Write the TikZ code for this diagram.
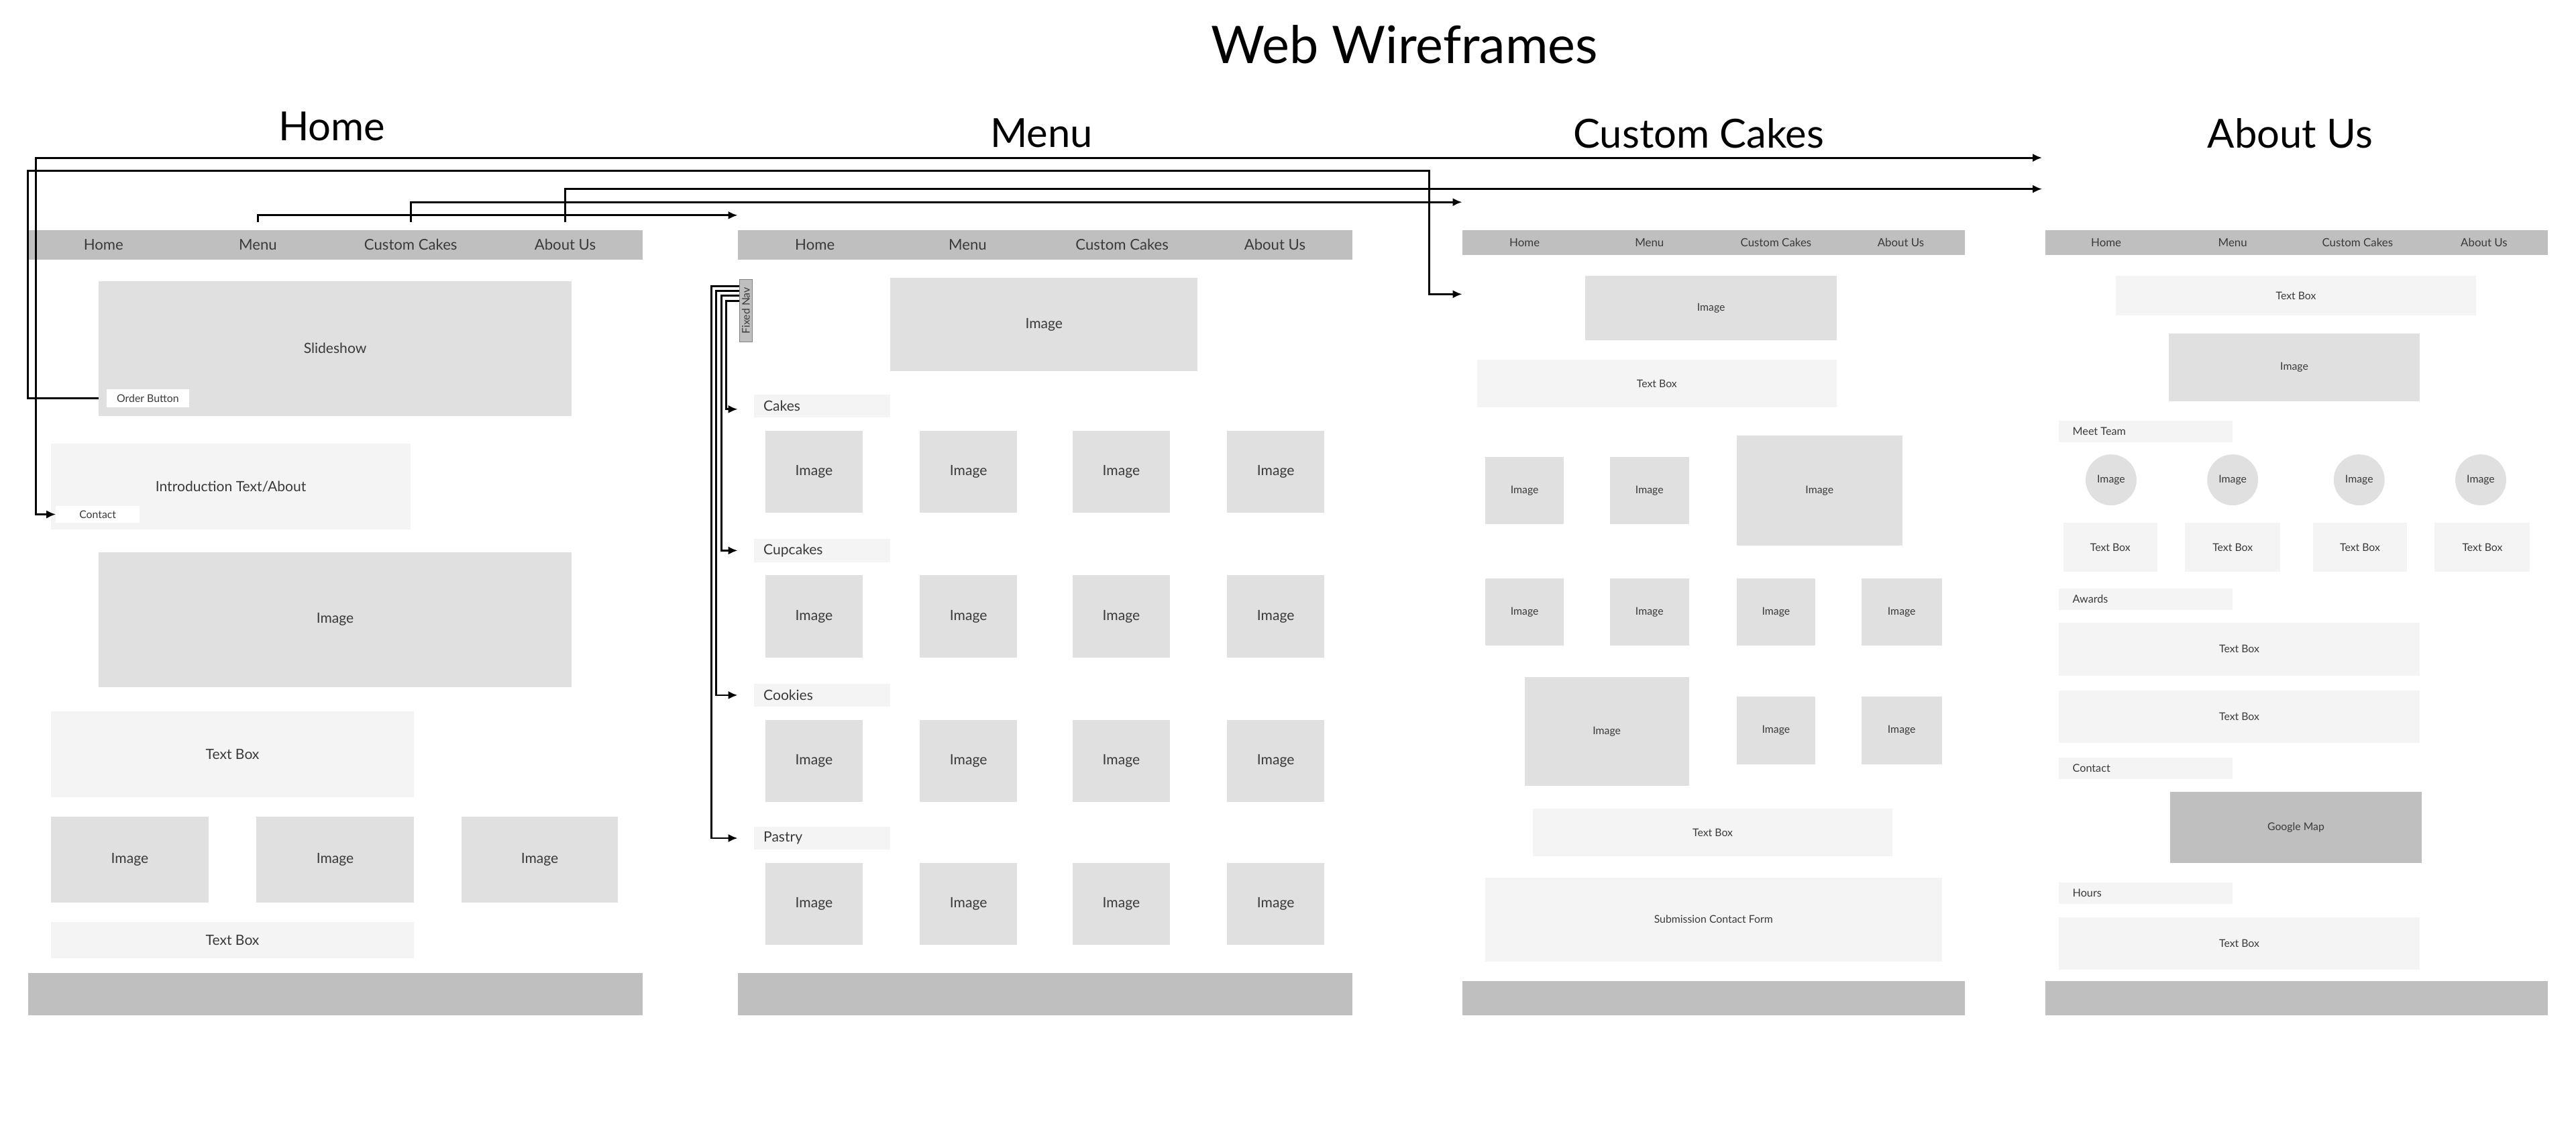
\documentclass[tikz,border=0pt]{standalone}
\usepackage{fontspec}
\setmainfont{Lato}
\usetikzlibrary{arrows.meta}
\definecolor{navc}{HTML}{BFBFBF}
\definecolor{imgc}{HTML}{E0E0E0}
\definecolor{txtc}{HTML}{F4F4F4}
\definecolor{inkc}{HTML}{3A3A3A}
\newcommand\wb[7]{%
 \pgfmathsetmacro\cx{(#3+#5)/2}\pgfmathsetmacro\cy{(#4+#6)/2}%
 \pgfmathsetmacro\ww{(#5-#3)*0.02449}\pgfmathsetmacro\hh{(#6-#4)*0.02449}%
 \node[#2,minimum width=\ww cm,minimum height=\hh cm] (#1) at (\cx,\cy) {#7};}
\begin{document}
\begin{tikzpicture}[x=0.02449cm,y=-0.02449cm,
 every node/.style={inner sep=0pt,outer sep=0pt,text=inkc},
 nav/.style={fill=navc},
 img/.style={fill=imgc,font=\fontsize{6}{7}\selectfont},
 tb/.style={fill=txtc,font=\fontsize{6}{7}\selectfont},
 imgs/.style={fill=imgc,font=\fontsize{4.5}{5}\selectfont},
 tbs/.style={fill=txtc,font=\fontsize{4.5}{5}\selectfont},
 wbtn/.style={fill=white,font=\fontsize{4.5}{5}\selectfont},
 navt/.style={font=\fontsize{6.3}{7}\selectfont},
 navs/.style={font=\fontsize{4.8}{5}\selectfont},
 hdr/.style={font=\fontsize{6}{7}\selectfont,anchor=west},
 hdrs/.style={font=\fontsize{4.6}{5}\selectfont,anchor=west},
 ttl/.style={font=\fontsize{17}{20}\selectfont,text=black},
 conn/.style={draw=black,line width=0.8pt,-{Latex[length=4pt,width=3.5pt]}}]
\useasboundingbox (0,0) rectangle (1568,682.7);
\node[font=\fontsize{22}{26}\selectfont,text=black] (title) at (855,27) {Web Wireframes};
\node[ttl] (tHome) at (202,77) {Home};
\node[ttl] (tMenu) at (634,81) {Menu};
\node[ttl] (tCC) at (1034,81) {Custom Cakes};
\node[ttl] (tAbout) at (1394,81) {About Us};
% ---------- Home
\wb{hnav}{nav}{17}{140}{391}{158}{}
\node[navt] (hhome) at (63,149) {Home};
\node[navt] (hmenu) at (157,149) {Menu};
\node[navt] (hcc) at (250,149) {Custom Cakes};
\node[navt] (habout) at (344,149) {About Us};
\wb{slide}{img}{60}{171}{348}{253}{Slideshow}
\wb{order}{wbtn}{65}{237}{115}{248}{Order Button}
\wb{intro}{tb}{31}{270}{250}{322}{Introduction Text/About}
\wb{contact}{wbtn}{34}{308}{85}{318}{Contact}
\wb{himg}{img}{60}{336}{348}{418}{Image}
\wb{htb1}{tb}{31}{433}{252}{485}{Text Box}
\wb{hi1}{img}{31}{497}{127}{549}{Image}
\wb{hi2}{img}{156}{497}{252}{549}{Image}
\wb{hi3}{img}{281}{497}{376}{549}{Image}
\wb{htb2}{tb}{31}{561}{252}{583}{Text Box}
\wb{hfoot}{nav}{17}{592}{391}{618}{}
% ---------- Menu
\wb{mnav}{nav}{449}{140}{823}{158}{}
\node[navt] (mhome) at (496,149) {Home};
\node[navt] (mmenu) at (589,149) {Menu};
\node[navt] (mcc) at (683,149) {Custom Cakes};
\node[navt] (mabout) at (776,149) {About Us};
\wb{fnav}{nav,draw=gray,line width=0.3pt}{450}{170}{458}{208}{}
\node[rotate=90,font=\fontsize{4.5}{5}\selectfont] at (fnav) {Fixed Nav};
\wb{mtop}{img}{542}{169}{729}{226}{Image}
\foreach \n/\t/\y in {cakes/Cakes/240,cupcakes/Cupcakes/328,cookies/Cookies/416,pastry/Pastry/503}{
 \wb{\n}{fill=txtc}{459}{\y}{542}{\y+14}{}
 \node[hdr] at ([xshift=4pt]\n.west) {\t};
}
\foreach \r/\y in {1/262,2/350,3/438,4/525}{
 \foreach \c/\x in {1/466,2/560,3/653,4/747}{
  \wb{m\r\c}{img}{\x}{\y}{\x+59}{\y+50}{Image}
 }}
\wb{mfoot}{nav}{449}{592}{823}{618}{}
% ---------- Custom Cakes
\wb{cnav}{nav}{890}{140}{1196}{155}{}
\node[navs] (chome) at (928,147.5) {Home};
\node[navs] (cmenu) at (1004,147.5) {Menu};
\node[navs] (ccc) at (1081,147.5) {Custom Cakes};
\node[navs] (cabout) at (1157,147.5) {About Us};
\wb{cimg}{imgs}{965}{168}{1118}{207}{Image}
\wb{ctb}{tbs}{899}{219}{1118}{248}{Text Box}
\wb{c11}{imgs}{904}{278}{952}{319}{Image}
\wb{c12}{imgs}{980}{278}{1028}{319}{Image}
\wb{c13}{imgs}{1057}{265}{1158}{332}{Image}
\wb{c21}{imgs}{904}{352}{952}{393}{Image}
\wb{c22}{imgs}{980}{352}{1028}{393}{Image}
\wb{c23}{imgs}{1057}{352}{1105}{393}{Image}
\wb{c24}{imgs}{1133}{352}{1182}{393}{Image}
\wb{c31}{imgs}{928}{412}{1028}{478}{Image}
\wb{c32}{imgs}{1057}{424}{1105}{465}{Image}
\wb{c33}{imgs}{1133}{424}{1182}{465}{Image}
\wb{ctb2}{tbs}{933}{492}{1152}{521}{Text Box}
\wb{cform}{tbs}{904}{534}{1182}{585}{Submission Contact Form}
\wb{cfoot}{nav}{890}{597}{1196}{618}{}
% ---------- About Us
\wb{anav}{nav}{1245}{140}{1551}{155}{}
\node[navs] (ahome) at (1282,147.5) {Home};
\node[navs] (amenu) at (1359,147.5) {Menu};
\node[navs] (acc) at (1435,147.5) {Custom Cakes};
\node[navs] (aabout) at (1512,147.5) {About Us};
\wb{atb}{tbs}{1288}{168}{1507}{192}{Text Box}
\wb{aimg}{imgs}{1320}{203}{1473}{244}{Image}
\foreach \n/\t/\y in {meet/Meet Team/256,awards/Awards/358,acontact/Contact/461,hours/Hours/537}{
 \wb{\n}{fill=txtc}{1253}{\y}{1359}{\y+13}{}
 \node[hdrs] at ([xshift=6pt]\n.west) {\t};
}
\foreach \i/\x in {1/1285,2/1359,3/1436,4/1510}{
 \node[circle,fill=imgc,minimum size=31*0.02449cm,font=\fontsize{4.5}{5}\selectfont] (ac\i) at (\x,292) {Image};
}
\wb{at1}{tbs}{1256}{318}{1313}{348}{Text Box}
\wb{at2}{tbs}{1330}{318}{1388}{348}{Text Box}
\wb{at3}{tbs}{1408}{318}{1465}{348}{Text Box}
\wb{at4}{tbs}{1482}{318}{1540}{348}{Text Box}
\wb{aw1}{tbs}{1253}{379}{1473}{411}{Text Box}
\wb{aw2}{tbs}{1253}{420}{1473}{452}{Text Box}
\wb{gmap}{fill=navc,font=\fontsize{4.5}{5}\selectfont}{1321}{482}{1474}{525}{Google Map}
\wb{hrs}{tbs}{1253}{558}{1473}{590}{Text Box}
\wb{afoot}{nav}{1245}{597}{1551}{618}{}
% ---------- connectors
\coordinate (aboutIn) at (1243,96);
\coordinate (ccIn) at (890,179);
\coordinate (t135) at (0,135);
\draw[conn,{Latex[length=4pt,width=3.5pt]}-{Latex[length=4pt,width=3.5pt]}] (contact.west) -| (22,96) -- (aboutIn);
\draw[conn] (order.west -| slide.west) -| (17,104) -| (870,179) -- (ccIn);
\draw[conn] (hmenu |- t135) |- (mnav.north west |- 0,131);
\draw[conn] (hcc |- t135) |- (890,123);
\draw[conn] (habout |- t135) |- (1243,115);
\draw[conn] (fnav.west |- 0,174) -| (433,510) -- (449,510);
\draw[conn] (fnav.west |- 0,177) -| (436,423) -- (449,423);
\draw[conn] (fnav.west |- 0,180) -| (439,335) -- (449,335);
\draw[conn] (fnav.west |- 0,183) -| (442,249) -- (449,249);
\end{tikzpicture}
\end{document}
